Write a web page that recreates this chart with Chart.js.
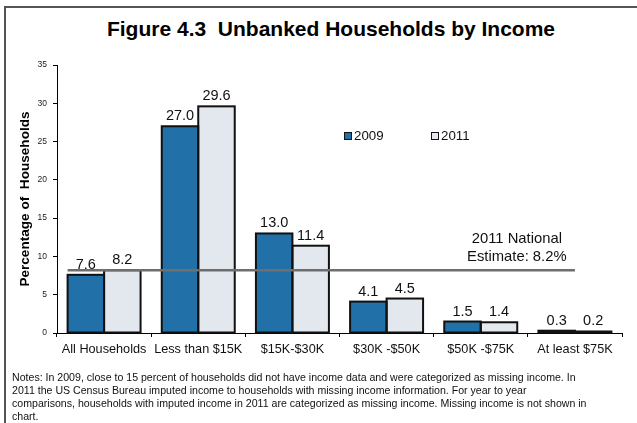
<!DOCTYPE html>
<html>
<head>
<meta charset="utf-8">
<script src="https://cdn.jsdelivr.net/npm/chart.js@4/dist/chart.umd.min.js"></script>
<style>
  html, body { margin: 0; padding: 0; background: #fff; }
  #wrap { position: relative; width: 637px; height: 423px; overflow: hidden; font-family: Arial, "Liberation Sans", sans-serif; }
  #frame { position: absolute; left: 4px; top: 6px; right: -4px; bottom: -4px; border-top: 2px solid #555; border-left: 2px solid #555; }
  #title { position: absolute; left: 0; width: 662px; top: 17px; text-align: center; font-size: 21px; font-weight: bold; color: #000; white-space: pre; }
  #notes { position: absolute; left: 12px; top: 371px; font-size: 10.6px; line-height: 13px; color: #111; white-space: nowrap; }
  canvas { position: absolute; left: 0; top: 0; }
</style>
</head>
<body>
<div id="wrap">
  <div id="frame"></div>
  <div id="title">Figure 4.3  Unbanked Households by Income</div>
  <canvas id="chart" width="637" height="423"></canvas>
  <div id="notes">Notes: In 2009, close to 15 percent of households did not have income data and were categorized as missing income. In<br>2011 the US Census Bureau imputed income to households with missing income information. For year to year<br>comparisons, households with imputed income in 2011 are categorized as missing income. Missing income is not shown in<br>chart.</div>
</div>
<script>
const categories = ["All Households", "Less than $15K", "$15K-$30K", "$30K -$50K", "$50K -$75K", "At least $75K"];
const values2009 = [7.6, 27.0, 13.0, 4.1, 1.5, 0.3];
const values2011 = [8.2, 29.6, 11.4, 4.5, 1.4, 0.2];
const nationalEstimate = 8.2;
const estimateLabel = ["2011 National", "Estimate: 8.2%"];

const FONT = "Arial, 'Liberation Sans', sans-serif";

// outline each bar (border centred on the edge) and write its value above it
const barLabels = {
    id: "barLabels",
    afterDatasetsDraw(chart) {
        const ctx = chart.ctx;
        ctx.save();
        ctx.strokeStyle = "#111";
        ctx.lineWidth = 2;
        ctx.font = "14.5px " + FONT;
        ctx.fillStyle = "#111";
        ctx.textAlign = "center";
        ctx.textBaseline = "alphabetic";
        chart.data.datasets.forEach((ds, i) => {
            chart.getDatasetMeta(i).data.forEach((bar, j) => {
                const left = bar.x - bar.width / 2;
                ctx.strokeRect(left, bar.y, bar.width, bar.base - bar.y);
                ctx.fillText(ds.data[j].toFixed(1), bar.x, bar.y - 6);
            });
        });
        ctx.restore();
    }
};

// national estimate line + legend
const extras = {
    id: "extras",
    afterDatasetsDraw(chart) {
        const ctx = chart.ctx;
        const x = chart.scales.x, y = chart.scales.y;
        const firstBar = chart.getDatasetMeta(0).data[0];
        const yy = y.getPixelForValue(nationalEstimate);
        ctx.save();
        ctx.strokeStyle = "#6e6e6e";
        ctx.lineWidth = 2.5;
        ctx.beginPath();
        ctx.moveTo(firstBar.x - firstBar.width / 2, yy);
        ctx.lineTo(x.getPixelForValue(categories.length - 1), yy);
        ctx.stroke();

        ctx.font = "14.8px " + FONT;
        ctx.fillStyle = "#111";
        ctx.textAlign = "center";
        ctx.textBaseline = "middle";
        const lx = (x.getPixelForValue(4) + x.getPixelForValue(5)) / 2 - 11;
        ctx.fillText(estimateLabel[0], lx, yy - 31);
        ctx.fillText(estimateLabel[1], lx, yy - 13);

        // legend
        const items = [["2009", "#2171a8", 344], ["2011", "#e2e8ee", 431]];
        ctx.font = "13.3px " + FONT;
        ctx.textAlign = "left";
        items.forEach(([label, color, lx2]) => {
            ctx.fillStyle = color;
            ctx.fillRect(lx2, 132, 8, 8);
            ctx.strokeStyle = "#111";
            ctx.lineWidth = 1;
            ctx.strokeRect(lx2 + 0.5, 132.5, 7, 7);
            ctx.fillStyle = "#111";
            ctx.fillText(label, lx2 + 10, 136.5);
        });
        ctx.restore();
    }
};

new Chart(document.getElementById("chart"), {
    type: "bar",
    data: {
        labels: categories,
        datasets: [
            { label: "2009", data: values2009, backgroundColor: "#2171a8", borderWidth: 0 },
            { label: "2011", data: values2011, backgroundColor: "#e2e8ee", borderWidth: 0 }
        ]
    },
    options: {
        responsive: false,
        animation: false,
        events: [],
        layout: { padding: { left: 0, right: 15, top: 65, bottom: 60 } },
        datasets: { bar: { categoryPercentage: 0.775, barPercentage: 1.0 } },
        plugins: { legend: { display: false }, tooltip: { enabled: false }, title: { display: false } },
        scales: {
            x: {
                afterFit(scale) { scale.height = 30; },
                border: { color: "#000", width: 1 },
                grid: { offset: true, drawOnChartArea: false, tickLength: 4, tickColor: "#000" },
                ticks: { color: "#111", padding: 5, maxRotation: 0, autoSkip: false,
                         font: { family: FONT, size: 12.7 } }
            },
            y: {
                min: 0, max: 35,
                afterFit(scale) { scale.width = 57; },
                border: { color: "#000", width: 1 },
                grid: { drawOnChartArea: false, tickLength: 4, tickColor: "#000" },
                ticks: { stepSize: 5, color: "#222", padding: 6,
                         font: { family: FONT, size: 8.5 } },
                title: { display: true, text: "Percentage of  Households", color: "#000",
                         padding: { top: 17, bottom: 0 },
                         font: { family: FONT, size: 13.6, weight: "bold" } }
            }
        }
    },
    plugins: [barLabels, extras]
});
</script>
</body>
</html>
